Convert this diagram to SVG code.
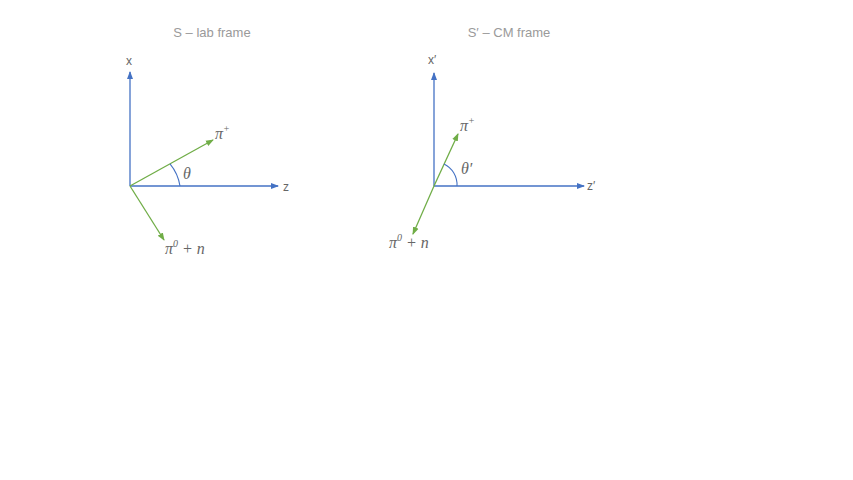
<svg xmlns="http://www.w3.org/2000/svg" width="853" height="480" viewBox="0 0 853 480">
<defs>
<marker id="ab" markerWidth="8" markerHeight="8" refX="7" refY="4" orient="auto" markerUnits="userSpaceOnUse"><path d="M0,1 L8,4 L0,7 Z" fill="#4472C4"/></marker>
<marker id="ag" markerWidth="8" markerHeight="8" refX="7" refY="4" orient="auto" markerUnits="userSpaceOnUse"><path d="M0,1 L8,4 L0,7 Z" fill="#70AD47"/></marker>
<style>
.ax{stroke:#4472C4;stroke-width:1.3;fill:none}
.vec{stroke:#70AD47;stroke-width:1.3;fill:none}
.arc{stroke:#4472C4;stroke-width:1.1;fill:none}
.title{font-family:"Liberation Sans",Arial,sans-serif;font-size:13px;fill:#9a9a9a;text-anchor:middle}
.lbl{font-family:"Liberation Sans",Arial,sans-serif;font-size:12px;fill:#666}
.math{font-family:"Liberation Serif","Times New Roman",serif;font-style:italic;font-size:16px;fill:#666}
</style>
</defs>
<rect width="853" height="480" fill="#fff"/>
<g id="connectors">
<line class="ax" x1="130" y1="186" x2="130" y2="72" marker-end="url(#ab)"/>
<line class="ax" x1="130" y1="186" x2="278" y2="186" marker-end="url(#ab)"/>
<line class="vec" x1="130" y1="186" x2="213" y2="140" marker-end="url(#ag)"/>
<line class="vec" x1="130" y1="186" x2="164" y2="240" marker-end="url(#ag)"/>
<path class="arc" d="M170,163.8 A46,46 0 0 1 180,186"/>
<line class="ax" x1="434" y1="186" x2="434" y2="73" marker-end="url(#ab)"/>
<line class="ax" x1="434" y1="186" x2="584" y2="186" marker-end="url(#ab)"/>
<line class="vec" x1="434" y1="186" x2="458" y2="134" marker-end="url(#ag)"/>
<line class="vec" x1="434" y1="186" x2="413" y2="234" marker-end="url(#ag)"/>
<path class="arc" d="M444,164 A23,23 0 0 1 457,186"/>
</g>
<g id="lab-frame">
<text class="title" x="212" y="37">S – lab frame</text>
<text class="lbl" x="126" y="65">x</text>
<text class="lbl" x="283" y="191">z</text>
<text class="math" x="215" y="139">π<tspan font-size="10" dy="-7">+</tspan></text>
<text class="math" x="183" y="179">θ</text>
<text class="math" x="165" y="254">π<tspan font-size="10" dy="-7">0</tspan><tspan dy="7"> + n</tspan></text>
</g>
<g id="cm-frame">
<text class="title" x="509" y="37">S′ – CM frame</text>
<text class="lbl" x="428" y="64">x′</text>
<text class="lbl" x="587" y="190">z′</text>
<text class="math" x="460" y="131">π<tspan font-size="10" dy="-7">+</tspan></text>
<text class="math" x="461" y="174">θ′</text>
<text class="math" x="389" y="248">π<tspan font-size="10" dy="-7">0</tspan><tspan dy="7"> + n</tspan></text>
</g>
</svg>
